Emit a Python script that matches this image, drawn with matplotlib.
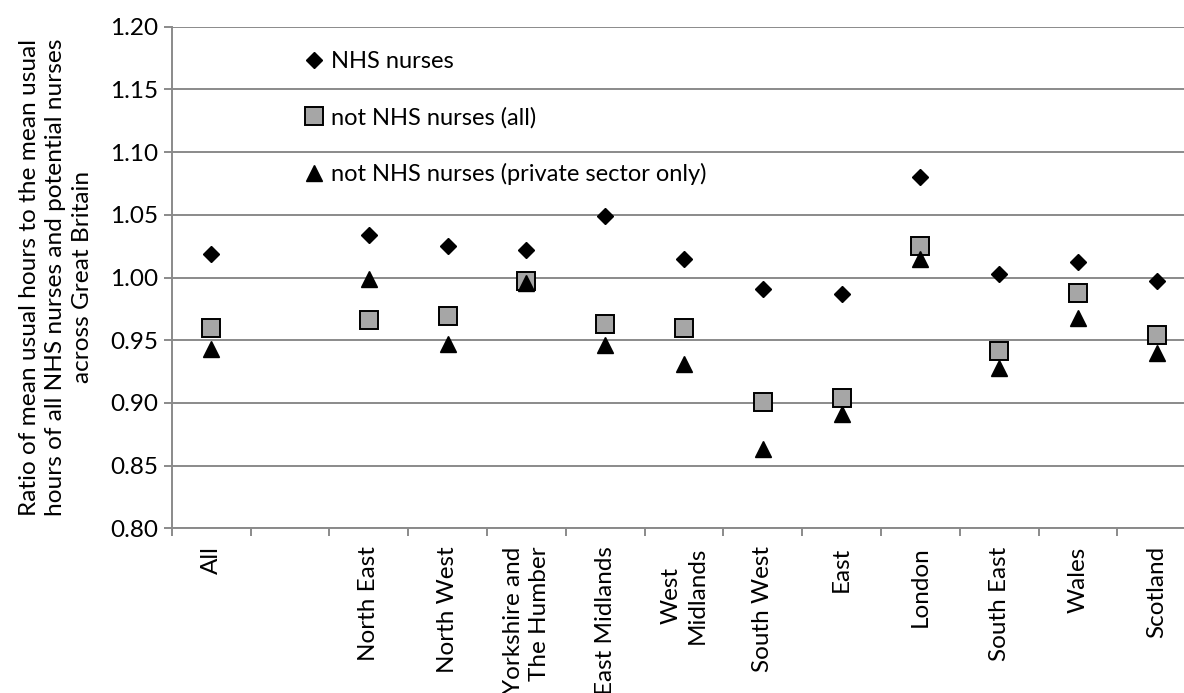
import numpy as np
import matplotlib
matplotlib.use("Agg")
import matplotlib.pyplot as plt
from matplotlib.ticker import MultipleLocator, FormatStrFormatter

# --- data ---
regioes = ["All", "", "North East", "North West", "Yorkshire and\nThe Humber",
           "East Midlands", "West\nMidlands", "South West", "East", "London",
           "South East", "Wales", "Scotland"]
nhs = [1.019, np.nan, 1.034, 1.025, 1.022, 1.049, 1.015, 0.991, 0.987,
       1.080, 1.003, 1.012, 0.997]
nao_nhs_todos = [0.960, np.nan, 0.966, 0.969, 0.997, 0.963, 0.960, 0.901,
                 0.904, 1.025, 0.941, 0.988, 0.954]
nao_nhs_privado = [0.943, np.nan, 0.999, 0.947, 0.996, 0.946, 0.931, 0.863,
                   0.891, 1.015, 0.928, 0.968, 0.940]
rotulos = ["NHS nurses", "not NHS nurses (all)",
           "not NHS nurses (private sector only)"]

COR_GRADE = "#8a8a8a"
FONTE = "Lato"

fig = plt.figure(figsize=(11.84, 6.93), dpi=100)
ax = fig.add_axes([171.7 / 1184, 164.7 / 693, 1024.6 / 1184, 501.6 / 693])

x = np.arange(len(regioes))
ax.plot(x, nhs, linestyle="none", marker="D", markersize=8.2,
        color="black", label=rotulos[0], zorder=3)
ax.plot(x, nao_nhs_todos, linestyle="none", marker="s", markersize=13,
        markerfacecolor="#a6a6a6", markeredgecolor="black",
        markeredgewidth=1.4, label=rotulos[1], zorder=4)
ax.plot(x, nao_nhs_privado, linestyle="none", marker="^", markersize=11.5,
        color="black", label=rotulos[2], zorder=5)

ax.set_xlim(-0.5, len(regioes) - 0.5)
ax.set_ylim(0.80, 1.20)
ax.yaxis.set_major_locator(MultipleLocator(0.05))
ax.yaxis.set_major_formatter(FormatStrFormatter("%.2f"))
ax.yaxis.grid(True, color=COR_GRADE, linewidth=1.4)
ax.set_axisbelow(True)

for lado in ["top", "right"]:
    ax.spines[lado].set_visible(False)
for lado in ["left", "bottom"]:
    ax.spines[lado].set_color(COR_GRADE)
    ax.spines[lado].set_linewidth(1.4)

ax.tick_params(axis="y", length=6, width=1.4, color=COR_GRADE, pad=4)
for rot in ax.get_yticklabels():
    rot.set_fontfamily(FONTE)
    rot.set_fontsize(17.5)

# category labels in the middle, tick marks on the boundaries
ax.set_xticks(x)
ax.set_xticklabels(regioes, rotation=90, fontfamily=FONTE,
                   fontsize=17.5, va="top", ha="center", linespacing=1.3)
ax.set_xticks(np.arange(-0.5, len(regioes)), minor=True)
ax.tick_params(axis="x", which="major", length=0, pad=13)
ax.tick_params(axis="x", which="minor", length=6, width=1.4, color=COR_GRADE)
for rot in ax.get_xticklabels():
    if rot.get_text().startswith("Yorkshire"):
        rot.set_multialignment("right")
    else:
        rot.set_multialignment("center")

fig.text(56 / 1184, 0.60,
         "Ratio of mean usual hours to the mean usual\n"
         "hours of all NHS nurses and potential nurses\n"
         "across Great Britain",
         rotation=90, ha="center", va="center", multialignment="center",
         fontfamily=FONTE, fontsize=17.6, linespacing=1.3)

ax.legend(loc="upper left", bbox_to_anchor=(0.130, 0.952), frameon=False,
          prop={"family": FONTE, "size": 17}, numpoints=1,
          handlelength=0.8, handletextpad=0.3, labelspacing=1.48,
          borderpad=0, borderaxespad=0)

fig.savefig("out.png", dpi=100)
